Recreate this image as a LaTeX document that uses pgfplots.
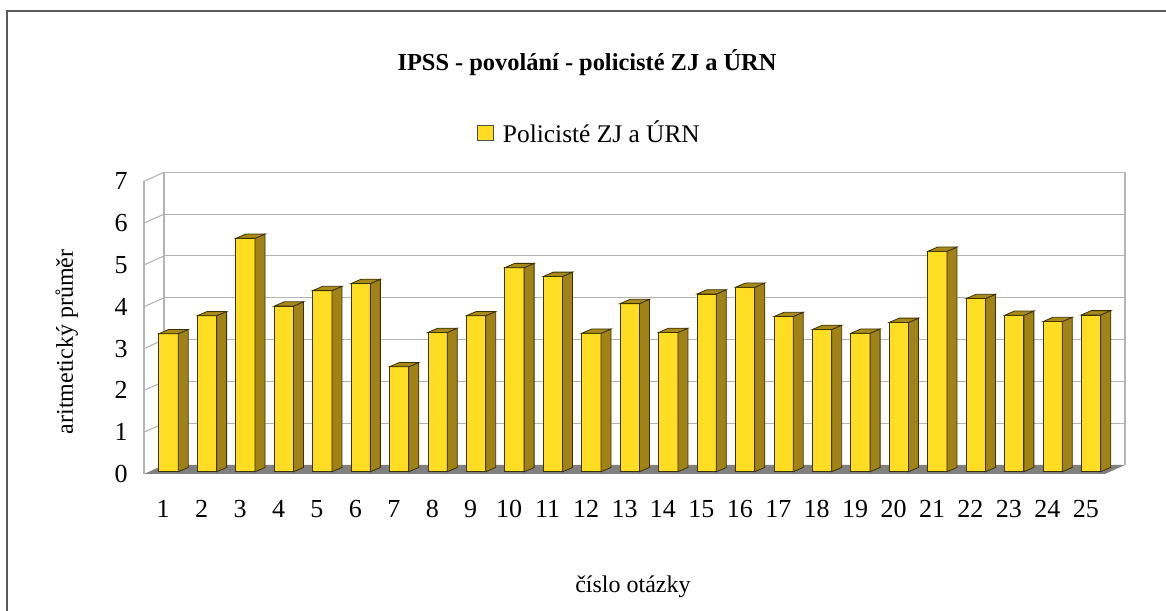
\documentclass[border=0pt]{standalone}
\usepackage{fontspec}
\setmainfont{Liberation Serif}
\usepackage{pgfplots}
\pgfplotsset{compat=1.18}
\definecolor{barfront}{RGB}{255,221,34}
\definecolor{barside}{RGB}{160,130,22}
\definecolor{bartop}{RGB}{168,138,26}
\definecolor{baredge}{RGB}{60,50,0}
\definecolor{gridc}{RGB}{180,180,180}
\definecolor{floorc}{RGB}{128,128,128}
\definecolor{framec}{RGB}{90,90,90}
\pgfdeclareplotmark{nomark}{}
\begin{document}
\begin{tikzpicture}
\path[use as bounding box] (0,0) rectangle (583pt,305pt);
\draw[framec, line width=0.7pt] (3.5pt,-1pt) -- (3.5pt,299.5pt) -- (584pt,299.5pt);
\node[font=\fontsize{12.2pt}{14pt}\selectfont\bfseries, anchor=base, inner sep=0pt] at (293.5pt,269.65pt) {IPSS - povolání - policisté ZJ a ÚRN};
\begin{axis}[
  at={(72pt,68pt)}, anchor=south west,
  scale only axis, width=480.5pt, height=146.35pt,
  xmin=0.5, xmax=25.5, ymin=0, ymax=7,
  xtick={1,...,25}, ytick={0,...,7},
  axis line style={draw=none}, major tick length=0pt,
  clip=false,
  /pgf/number format/assume math mode=true,
  ticklabel style={font=\fontsize{13pt}{15pt}\selectfont},
  yticklabel style={xshift=-4.7pt},
  xticklabel style={yshift=-9.5pt},
  xlabel={číslo otázky}, ylabel={aritmetický průměr},
  label style={font=\fontsize{12pt}{14pt}\selectfont},
  xlabel style={at={(rel axis cs:0.5088,-0.3860)}, anchor=center},
  ylabel style={at={(rel axis cs:-0.0804,0.451)}, anchor=center},
  legend style={at={(rel axis cs:0.4646,1.165)}, anchor=center, draw=none, fill=none, font=\fontsize{12.7pt}{15pt}\selectfont, inner sep=0pt},
  legend image code/.code={\draw[fill=barfront, draw=black!70, line width=0.4pt] (0pt,-3.7pt) rectangle (8pt,3.7pt);},
  legend style={/tikz/every even column/.append style={column sep=0pt}},
  legend cell align=left,
]
\fill[floorc] (axis cs:0.5,0) -- (axis cs:25.5,0) -- ([shift={(10pt,4.5pt)}]axis cs:25.5,0) -- ([shift={(10pt,4.5pt)}]axis cs:0.5,0) -- cycle;
\pgfplotsinvokeforeach{1,...,7}{
  \draw[gridc, line width=0.55pt] ([shift={(10pt,4.5pt)}]axis cs:0.5,#1) -- ([shift={(10pt,4.5pt)}]axis cs:25.5,#1);
  \draw[gridc, line width=0.55pt] (axis cs:0.5,#1) -- ([shift={(10pt,4.5pt)}]axis cs:0.5,#1);
}
\draw[gridc, line width=0.55pt] (axis cs:0.5,0) -- (axis cs:0.5,7);
\draw[gridc, line width=0.55pt] ([shift={(10pt,4.5pt)}]axis cs:0.5,0) -- ([shift={(10pt,4.5pt)}]axis cs:0.5,7);
\draw[gridc, line width=0.55pt] ([shift={(10pt,4.5pt)}]axis cs:25.5,0) -- ([shift={(10pt,4.5pt)}]axis cs:25.5,7);
\addplot[scatter, only marks, mark=nomark,
  visualization depends on={rawy \as \barval},
  scatter/@pre marker code/.code={%
    \pgfmathsetlengthmacro{\bb}{-\barval*20.914pt+1.15pt}%
    \filldraw[fill=barfront, draw=baredge, line width=0.4pt] (-2.18pt,\bb) rectangle (7.48pt,1.15pt);
    \filldraw[fill=barside, draw=baredge, line width=0.4pt] (7.48pt,\bb) -- ++(5pt,2.15pt) -- (12.48pt,3.3pt) -- (7.48pt,1.15pt) -- cycle;
    \filldraw[fill=bartop, draw=baredge, line width=0.4pt] (-2.18pt,1.15pt) -- (7.48pt,1.15pt) -- (12.48pt,3.3pt) -- (2.82pt,3.3pt) -- cycle;
  },
  scatter/@post marker code/.code={},
] coordinates {
(1,3.30) (2,3.73) (3,5.58) (4,3.96) (5,4.33) (6,4.50) (7,2.51) (8,3.33) (9,3.73) (10,4.88)
(11,4.67) (12,3.31) (13,4.02) (14,3.33) (15,4.25) (16,4.41) (17,3.71) (18,3.40) (19,3.31) (20,3.57)
(21,5.27) (22,4.14) (23,3.74) (24,3.59) (25,3.75)
};
\addlegendentry{\hspace{2.5pt}Policisté ZJ a ÚRN}
\end{axis}
\end{tikzpicture}
\end{document}
